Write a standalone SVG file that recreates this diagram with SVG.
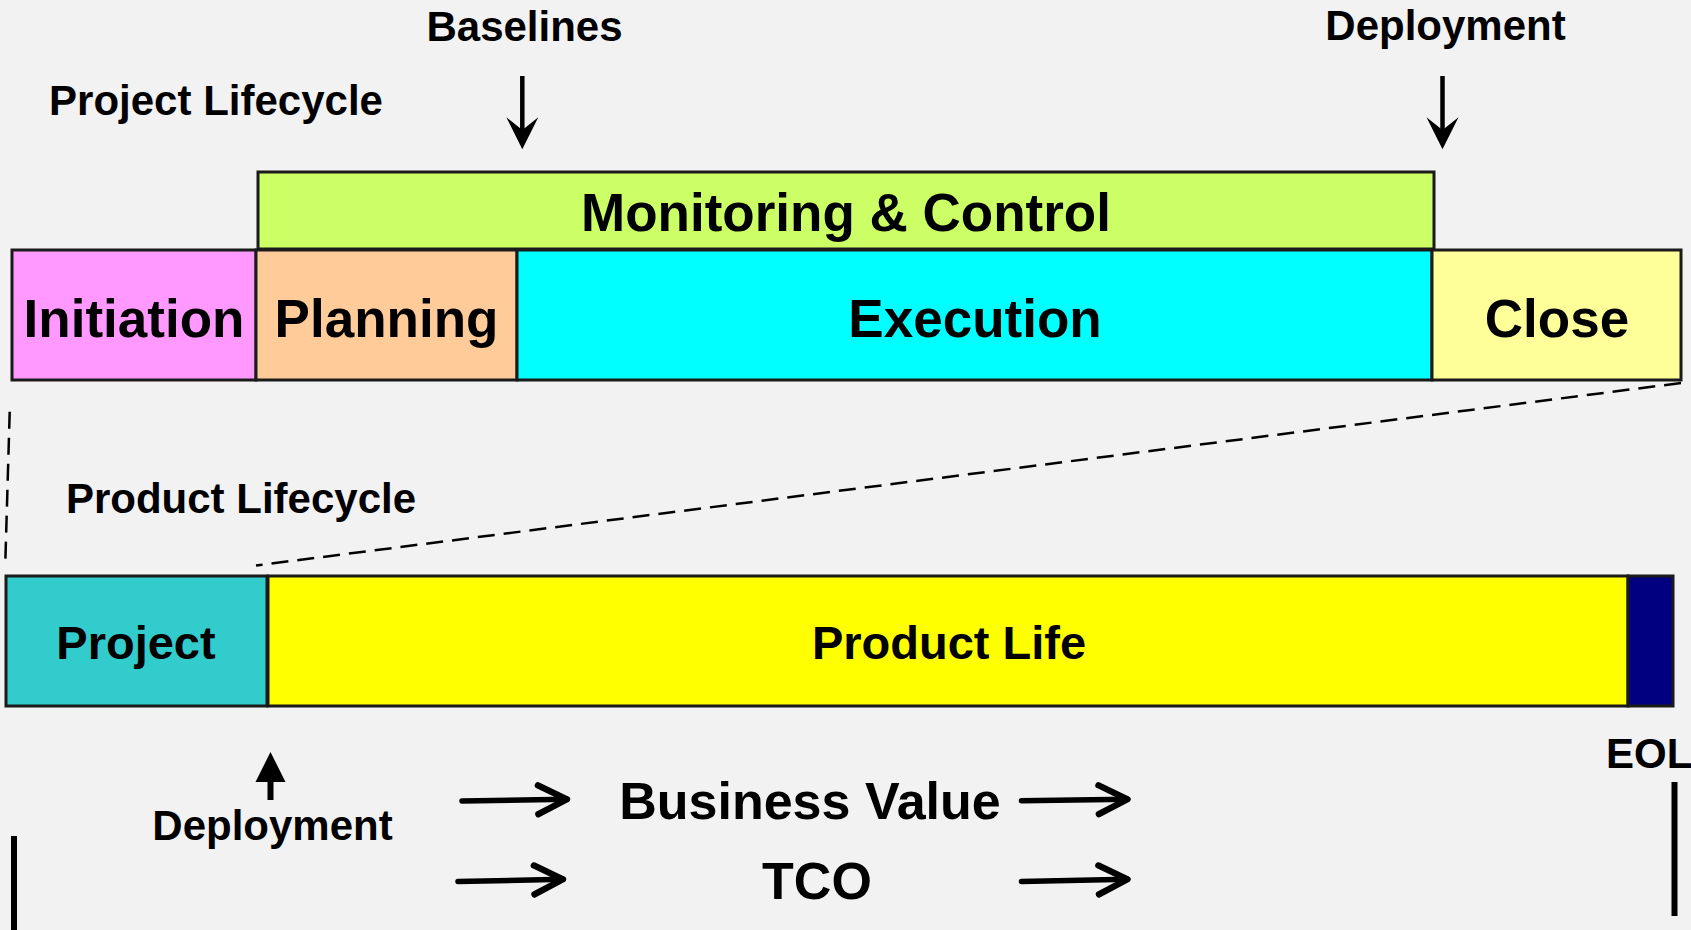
<svg xmlns="http://www.w3.org/2000/svg" width="1691" height="930" viewBox="0 0 1691 930">
  <style>
    .box { stroke: #1a1a1a; stroke-width: 3; }
    .big { font-family: "Liberation Sans", Arial, sans-serif; font-weight: bold; font-size: 53px; fill: #000; text-anchor: middle; }
    .mid { font-family: "Liberation Sans", Arial, sans-serif; font-weight: bold; font-size: 47px; fill: #000; text-anchor: middle; }
    .lbl { font-family: "Liberation Sans", Arial, sans-serif; font-weight: bold; font-size: 42px; fill: #000; text-anchor: middle; }
    .val { font-family: "Liberation Sans", Arial, sans-serif; font-weight: bold; font-size: 52px; fill: #000; text-anchor: middle; }
    .dash { stroke: #000; stroke-width: 2.5; stroke-dasharray: 17 9; fill: none; }
    .thin { stroke: #000; stroke-width: 4.5; fill: none; }
    .thick { stroke: #000; stroke-width: 5.5; fill: none; stroke-linecap: round; }
    .bar { stroke: #000; stroke-width: 6; }
  </style>
  <defs>
    <marker id="stealth" markerUnits="userSpaceOnUse" markerWidth="32" markerHeight="32" viewBox="0 0 30 30" refX="12" refY="15" orient="auto" overflow="visible">
      <path d="M0,0 L30,15 L0,30 L12,15 Z" fill="#000"/>
    </marker>
    <marker id="tri" markerUnits="userSpaceOnUse" markerWidth="30" markerHeight="30" viewBox="0 0 29 29" refX="0" refY="14.5" orient="auto" overflow="visible">
      <path d="M0,0 L29,14.5 L0,29 Z" fill="#000"/>
    </marker>
    <marker id="chev" markerUnits="userSpaceOnUse" markerWidth="30" markerHeight="30" viewBox="0 0 26 26" refX="25" refY="12.5" orient="auto" overflow="visible">
      <path d="M0,0 L25,12.5 L0,25" fill="none" stroke="#000" stroke-width="5.5" stroke-linecap="round" stroke-linejoin="round"/>
    </marker>
  </defs>

  <rect x="0" y="0" width="1691" height="930" fill="#f2f2f2"/>

  <g id="label-project-lifecycle"><text class="lbl" x="216" y="115">Project Lifecycle</text></g>
  <g id="label-baselines"><text class="lbl" x="524.5" y="40.5">Baselines</text></g>
  <g id="label-deployment-top"><text class="lbl" x="1445.5" y="40">Deployment</text></g>
  <g id="label-product-lifecycle"><text class="lbl" x="241" y="512.5">Product Lifecycle</text></g>

  <g id="node-monitoring">
    <rect class="box" x="258" y="172" width="1176" height="77" fill="#ccff66"/>
    <text class="big" x="846" y="231">Monitoring &amp; Control</text>
  </g>
  <g id="node-initiation">
    <rect class="box" x="12" y="250" width="244" height="130" fill="#ff99ff"/>
    <text class="big" x="134" y="337">Initiation</text>
  </g>
  <g id="node-planning">
    <rect class="box" x="256" y="250" width="261" height="130" fill="#ffcc99"/>
    <text class="big" x="386.5" y="337">Planning</text>
  </g>
  <g id="node-execution">
    <rect class="box" x="517" y="250" width="915" height="130" fill="#00ffff"/>
    <text class="big" x="975" y="337">Execution</text>
  </g>
  <g id="node-close">
    <rect class="box" x="1432" y="250" width="249" height="130" fill="#ffff99"/>
    <text class="big" x="1557" y="337">Close</text>
  </g>

  <g id="node-project">
    <rect class="box" x="6" y="576" width="261" height="130" fill="#33cccc"/>
    <text class="mid" x="136" y="659">Project</text>
  </g>
  <g id="node-product-life">
    <rect class="box" x="268" y="576" width="1360" height="130" fill="#ffff00"/>
    <text class="mid" x="949" y="659">Product Life</text>
  </g>
  <g id="node-eol-block">
    <rect class="box" x="1628" y="576" width="45" height="130" fill="#000080"/>
  </g>

  <g id="label-deployment-bottom"><text class="lbl" x="272.5" y="840">Deployment</text></g>
  <g id="label-eol"><text class="lbl" x="1606" y="768" style="text-anchor:start">EOL</text></g>
  <g id="label-business-value"><text class="val" x="810" y="819">Business Value</text></g>
  <g id="label-tco"><text class="val" x="817" y="899">TCO</text></g>

  <g id="connectors">
    <line class="dash" x1="9.7" y1="411.7" x2="5.3" y2="562.7"/>
    <line class="dash" x1="1681" y1="383" x2="256" y2="565.5"/>
    <line class="thin" x1="522.3" y1="76" x2="522.3" y2="130" marker-end="url(#stealth)"/>
    <line class="thin" x1="1442.5" y1="76" x2="1442.5" y2="130" marker-end="url(#stealth)"/>
    <line class="bar" x1="270.5" y1="800" x2="270.5" y2="782" marker-end="url(#tri)" style="stroke-width:6"/>
    <line class="thick" x1="462" y1="801" x2="567" y2="799.3" marker-end="url(#chev)"/>
    <line class="thick" x1="458" y1="881.5" x2="563" y2="879.3" marker-end="url(#chev)"/>
    <line class="thick" x1="1021.5" y1="800.7" x2="1127.5" y2="799.3" marker-end="url(#chev)"/>
    <line class="thick" x1="1021.5" y1="881.5" x2="1127.5" y2="879.3" marker-end="url(#chev)"/>
  </g>

  <g id="timeline-bars">
    <line class="bar" x1="14" y1="836" x2="14" y2="930"/>
    <line class="bar" x1="1674.5" y1="782" x2="1674.5" y2="916"/>
  </g>
</svg>
